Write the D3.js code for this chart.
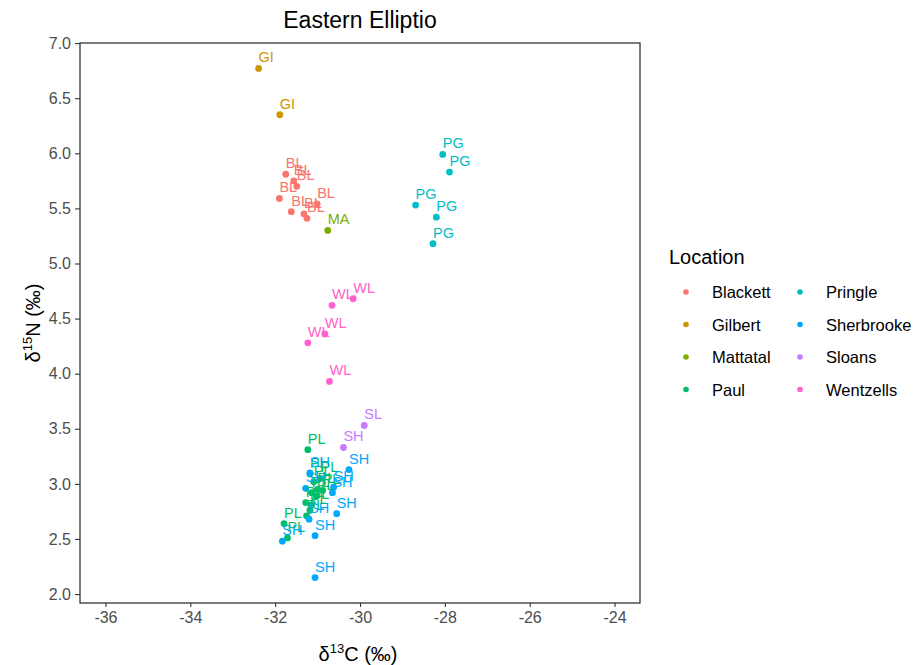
<!DOCTYPE html>
<html>
<head>
<meta charset="utf-8">
<script src="https://cdn.jsdelivr.net/npm/d3@7"></script>
<style>
  html, body { margin: 0; padding: 0; background: #ffffff; }
  svg { display: block; font-family: "Liberation Sans", Arial, sans-serif; }
</style>
</head>
<body>
<svg id="chart" width="919" height="665"></svg>
<script>
// Stable isotope values (δ13C, δ15N, ‰) for Eastern Elliptio, by location
const locations = ["Blackett", "Gilbert", "Mattatal", "Paul", "Pringle", "Sherbrooke", "Sloans", "Wentzells"];
const locationColors = ["#F8766D", "#CD9600", "#7CAE00", "#00BE67", "#00BFC4", "#00A9FF", "#C77CFF", "#FF61CC"];

const blackettC = [-31.75, -31.56, -31.49, -31.90, -31.62, -31.01, -31.32, -31.25];
const blackettN = [5.81, 5.75, 5.70, 5.59, 5.47, 5.54, 5.45, 5.41];
const blackettLabel = ["BL", "BL", "BL", "BL", "BL", "BL", "BL", "BL"];

const gilbertC = [-32.39, -31.89];
const gilbertN = [6.77, 6.35];
const gilbertLabel = ["GI", "GI"];

const mattatalC = [-30.76];
const mattatalN = [5.30];
const mattatalLabel = ["MA"];

const paulC = [-31.23, -31.18, -31.09, -30.93, -31.00, -30.88, -31.14, -31.02, -31.28, -31.14, -31.18, -31.26, -31.79, -31.71];
const paulN = [3.31, 3.09, 3.02, 3.05, 2.95, 2.94, 2.92, 2.89, 2.83, 2.81, 2.76, 2.71, 2.64, 2.51];
const paulLabel = ["PL", "PL", "PL", "PL", "PL", "PL", "PL", "PL", "PL", "PL", "PL", "PL", "PL", "PL"];

const pringleC = [-28.05, -27.89, -28.69, -28.20, -28.28];
const pringleN = [5.99, 5.83, 5.53, 5.42, 5.18];
const pringleLabel = ["PG", "PG", "PG", "PG", "PG"];

const sherbrookeC = [-30.26, -30.65, -30.62, -30.55, -31.28, -31.18, -31.20, -31.06, -31.83, -31.06];
const sherbrookeN = [3.13, 2.92, 2.97, 2.73, 2.96, 3.10, 2.68, 2.53, 2.48, 2.15];
const sherbrookeLabel = ["SH", "SH", "SH", "SH", "SH", "SH", "SH", "SH", "SH", "SH"];

const sloansC = [-29.90, -30.39];
const sloansN = [3.53, 3.33];
const sloansLabel = ["SL", "SH"];

const wentzellsC = [-30.66, -30.16, -31.23, -30.83, -30.72];
const wentzellsN = [4.62, 4.68, 4.28, 4.36, 3.93];
const wentzellsLabel = ["WL", "WL", "WL", "WL", "WL"];

const xTicks = [-36, -34, -32, -30, -28, -26, -24];
const yTicks = [2.0, 2.5, 3.0, 3.5, 4.0, 4.5, 5.0, 5.5, 6.0, 6.5, 7.0];
const xLimits = [-36, -24];

// Assemble the point table from the per-location arrays
const groups = [
  [blackettC, blackettN, blackettLabel],
  [gilbertC, gilbertN, gilbertLabel],
  [mattatalC, mattatalN, mattatalLabel],
  [paulC, paulN, paulLabel],
  [pringleC, pringleN, pringleLabel],
  [sherbrookeC, sherbrookeN, sherbrookeLabel],
  [sloansC, sloansN, sloansLabel],
  [wentzellsC, wentzellsN, wentzellsLabel]
];
const points = [];
groups.forEach(([cs, ns, labs], gi) => {
  cs.forEach((c, i) => points.push({ loc: locations[gi], c: c, n: ns[i], label: labs[i] }));
});

const svg = d3.select("#chart");
const panel = { left: 80, right: 640, top: 43, bottom: 603 };

// 5% padding on each side, as in a default ggplot continuous scale
const pad = (lo, hi) => { const d = (hi - lo) * 0.05; return [lo - d, hi + d]; };
const yExt = d3.extent(points, d => d.n);

const x = d3.scaleLinear().domain(pad(xLimits[0], xLimits[1])).range([panel.left, panel.right]);
const y = d3.scaleLinear().domain(pad(yExt[0], yExt[1])).range([panel.bottom, panel.top]);
const color = d3.scaleOrdinal().domain(locations).range(locationColors);

const tickColor = "#333333";
const tickText = "#4D4D4D";

// Axes
const xAxis = svg.append("g")
  .attr("transform", `translate(0,${panel.bottom})`)
  .call(d3.axisBottom(x).tickValues(xTicks).tickSize(4).tickPadding(5).tickFormat(d3.format("d")));
const yAxis = svg.append("g")
  .attr("transform", `translate(${panel.left},0)`)
  .call(d3.axisLeft(y).tickValues(yTicks).tickSize(5).tickPadding(4).tickFormat(d3.format(".1f")));

[xAxis, yAxis].forEach(g => {
  g.select(".domain").remove();
  g.selectAll(".tick line").attr("stroke", tickColor).attr("stroke-width", 1.1);
  g.selectAll(".tick text")
    .attr("fill", tickText)
    .style("font-size", "16px")
    .style("font-family", "\"Liberation Sans\", Arial, sans-serif");
});
// Plain hyphen-minus for negative tick labels
xAxis.selectAll(".tick text").text(d => String(d));

// Panel border
svg.append("rect")
  .attr("x", panel.left).attr("y", panel.top)
  .attr("width", panel.right - panel.left).attr("height", panel.bottom - panel.top)
  .attr("fill", "none").attr("stroke", "#333333").attr("stroke-width", 1.3);

// Points
svg.append("g").selectAll("circle")
  .data(points).join("circle")
  .attr("cx", d => x(d.c))
  .attr("cy", d => y(d.n))
  .attr("r", 3.4)
  .attr("fill", d => color(d.loc));

// Sample labels, left-aligned at the point and nudged up by 0.1
svg.append("g").selectAll("text")
  .data(points).join("text")
  .attr("x", d => x(d.c))
  .attr("y", d => y(d.n + 0.1))
  .attr("dominant-baseline", "central")
  .attr("fill", d => color(d.loc))
  .style("font-size", "14.5px")
  .text(d => d.label);

// Title
svg.append("text")
  .attr("x", (panel.left + panel.right) / 2).attr("y", 28)
  .attr("text-anchor", "middle")
  .attr("fill", "#000000")
  .style("font-size", "23px")
  .text("Eastern Elliptio");

// Axis titles with superscript isotope masses
const xTitle = svg.append("text")
  .attr("x", (panel.left + panel.right) / 2 - 2).attr("y", 661)
  .attr("text-anchor", "middle")
  .attr("fill", "#000000")
  .style("font-size", "20px");
xTitle.append("tspan").text("δ");
xTitle.append("tspan").attr("dy", -8).style("font-size", "13px").text("13");
xTitle.append("tspan").attr("dy", 8).text("C (‰)");

const yTitle = svg.append("text")
  .attr("transform", `translate(40,${(panel.top + panel.bottom) / 2}) rotate(-90)`)
  .attr("text-anchor", "middle")
  .attr("fill", "#000000")
  .style("font-size", "20px");
yTitle.append("tspan").text("δ");
yTitle.append("tspan").attr("dy", -8).style("font-size", "13px").text("15");
yTitle.append("tspan").attr("dy", 8).text("N (‰)");

// Legend
const legend = svg.append("g");
legend.append("text")
  .attr("x", 669).attr("y", 257)
  .attr("dominant-baseline", "central")
  .attr("fill", "#000000")
  .style("font-size", "20px")
  .text("Location");

const rowY = [292, 324.5, 357, 389.5];
const colX = [686, 800];
locations.forEach((loc, i) => {
  const col = Math.floor(i / 4), row = i % 4;
  const item = legend.append("g").attr("transform", `translate(${colX[col]},${rowY[row]})`);
  item.append("circle").attr("r", 2.8).attr("fill", color(loc));
  item.append("text")
    .attr("x", 26).attr("y", 0)
    .attr("dominant-baseline", "central")
    .attr("fill", "#000000")
    .style("font-size", "16.5px")
    .text(loc);
});
</script>
</body>
</html>
